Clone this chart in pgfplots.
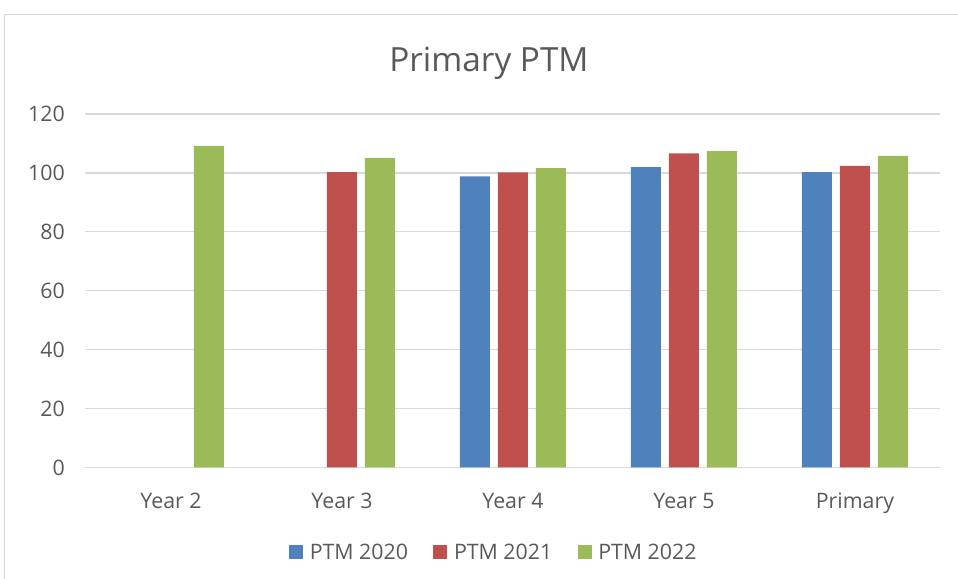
\documentclass[border=0pt]{standalone}
\usepackage{fontspec}
\setmainfont{Open Sans}
\usepackage{pgfplots}
\pgfplotsset{compat=1.18}
\definecolor{cA}{HTML}{4F81BD}
\definecolor{cB}{HTML}{C0504D}
\definecolor{cC}{HTML}{9BBB59}
\definecolor{gridc}{HTML}{D9D9D9}
\definecolor{textc}{HTML}{595959}
\begin{document}
\begin{tikzpicture}
\useasboundingbox (-64.1pt,-83.6pt) rectangle (654.4pt,350.6pt);
\draw[gridc, line width=0.75pt] (-60.4pt,-95pt) -- (-60.4pt,339.4pt) -- (670pt,339.4pt);
\begin{axis}[
  at={(0pt,0pt)}, anchor=south west,
  scale only axis, width=641.25pt, height=265.1pt,
  ybar=6pt, bar width=22.5pt,
  xmin=-0.5, xmax=4.5, ymin=0, ymax=120,
  ytick={0,20,...,120},
  xtick={0,1,2,3,4},
  xticklabels={Year 2,Year 3,Year 4,Year 5,Primary},
  axis lines*=left,
  y axis line style={draw=none},
  x axis line style={gridc, line width=1pt},
  major tick length=0pt,
  ymajorgrids, grid style={gridc, line width=1pt},
  /pgf/number format/assume math mode=true,
  tick label style={font=\fontsize{16}{19}\selectfont, text=textc},
  yticklabel style={xshift=-12pt},
  xticklabel style={yshift=-15.5pt},
  legend columns=3,
  legend style={draw=none, fill=none, at={(0.478,-0.24)}, anchor=center,
    font=\fontsize{16}{19}\selectfont, text=textc,
    /tikz/every odd column/.append style={column sep=3pt},
    /tikz/every even column/.append style={column sep=17pt}},
  legend image code/.code={\fill[#1, draw=none] (0pt,-5.25pt) rectangle (10.5pt,5.25pt);},
]
\addplot[fill=cA, draw=none] coordinates {(2,98.8) (3,102.0) (4,100.3)};
\addplot[fill=cB, draw=none] coordinates {(1,100.3) (2,100.2) (3,106.6) (4,102.4)};
\addplot[fill=cC, draw=none] coordinates {(0,109.2) (1,105.1) (2,101.6) (3,107.4) (4,105.8)};
\legend{PTM 2020, PTM 2021, PTM 2022}
\end{axis}
\node[font=\fontsize{25}{30}\selectfont, text=textc] at (302.6pt,303.4pt) {Primary PTM};
\end{tikzpicture}
\end{document}
